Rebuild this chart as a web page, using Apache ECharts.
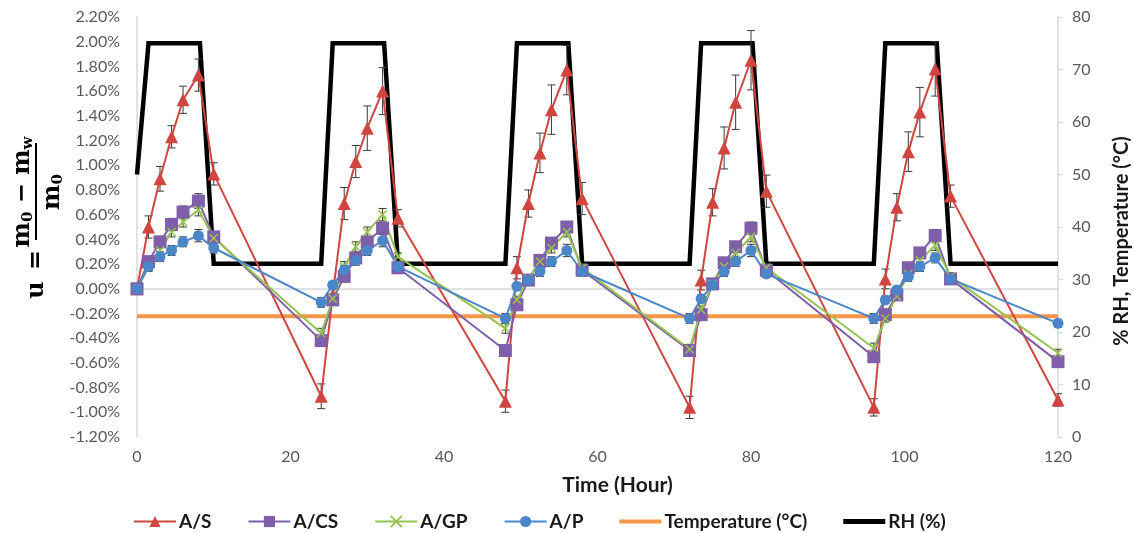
<!DOCTYPE html>
<html>
<head>
<meta charset="utf-8">
<script src="https://cdn.jsdelivr.net/npm/echarts@6/dist/echarts.min.js"></script>
<style>html,body{margin:0;padding:0;background:#fff;}#chart{width:1134px;height:533px;}</style>
</head>
<body>
<div id="chart"></div>
<script>
// ---- data ----
const hours = [0,1.5,3,4.5,6,8,10, 24,25.5,27,28.5,30,32,34, 48,49.5,51,52.5,54,56,58, 72,73.5,75,76.5,78,80,82, 96,97.5,99,100.5,102,104,106, 120];
// values in percent (u)
const valAS  = [0,0.50,0.89,1.23,1.53,1.73,0.93, -0.87,-0.05,0.69,1.03,1.30,1.60,0.57, -0.91,0.17,0.69,1.10,1.45,1.77,0.73, -0.96,0.07,0.70,1.14,1.51,1.85,0.79, -0.96,0.08,0.66,1.11,1.43,1.78,0.75, -0.90];
const errAS  = [0,0.09,0.10,0.09,0.11,0.13,0.09, 0.10,0.06,0.13,0.13,0.18,0.19,0.07, 0.09,0.09,0.11,0.16,0.20,0.20,0.13, 0.09,0.08,0.11,0.17,0.22,0.24,0.13, 0.07,0.08,0.11,0.16,0.20,0.22,0.09, 0.05];
const valACS = [0,0.22,0.38,0.52,0.62,0.71,0.42, -0.42,-0.09,0.10,0.25,0.38,0.49,0.17, -0.50,-0.13,0.07,0.23,0.37,0.50,0.15, -0.50,-0.21,0.04,0.21,0.34,0.49,0.15, -0.55,-0.21,-0.05,0.17,0.29,0.43,0.08, -0.59];
const errACS = [0,0.04,0.04,0.05,0.05,0.06,0.04, 0.04,0.03,0.04,0.04,0.04,0.05,0.03, 0.04,0.03,0.03,0.04,0.04,0.04,0.03, 0.04,0.03,0.03,0.04,0.04,0.05,0.03, 0.04,0.03,0.03,0.04,0.04,0.05,0.03, 0.03];
const valAGP = [0,0.18,0.31,0.46,0.54,0.64,0.41, -0.36,-0.08,0.18,0.34,0.46,0.60,0.26, -0.32,-0.09,0.08,0.22,0.33,0.46,0.17, -0.49,-0.17,0.04,0.18,0.29,0.42,0.17, -0.48,-0.24,-0.06,0.12,0.23,0.35,0.10, -0.52];
const errAGP = [0,0.03,0.04,0.04,0.04,0.05,0.04, 0.04,0.03,0.04,0.04,0.04,0.05,0.03, 0.04,0.03,0.03,0.04,0.04,0.04,0.03, 0.04,0.03,0.03,0.04,0.04,0.04,0.03, 0.04,0.03,0.03,0.04,0.04,0.04,0.03, 0.03];
const valAP  = [0,0.18,0.26,0.31,0.38,0.43,0.33, -0.11,0.03,0.15,0.23,0.31,0.39,0.18, -0.24,0.02,0.07,0.14,0.22,0.31,0.14, -0.24,-0.08,0.03,0.14,0.22,0.31,0.12, -0.24,-0.09,-0.01,0.10,0.18,0.25,0.08, -0.28];
const errAP  = [0,0.04,0.04,0.04,0.04,0.05,0.04, 0.04,0.03,0.04,0.04,0.04,0.05,0.03, 0.04,0.03,0.03,0.04,0.04,0.05,0.04, 0.04,0.03,0.03,0.04,0.04,0.05,0.03, 0.04,0.03,0.03,0.04,0.04,0.04,0.03, 0.03];
// RH and temperature (right axis)
const rhHours = [0,1.5,8.2,10,24,25.5,32.2,34,48,49.5,56.2,58,72,73.5,80.2,82,96,97.5,104.2,106,120];
const rhVals  = [50,75,75,33,33,75,75,33,33,75,75,33,33,75,75,33,33,75,75,33,33];
const tempHours = [0,120];
const tempVals  = [23,23];
// axes
const xMin = 0, xMax = 120, xStep = 20;
const yLMin = -1.2, yLMax = 2.2, yLStep = 0.2;
const yRMin = 0, yRMax = 80, yRStep = 10;
const seriesNames = ['A/S','A/CS','A/GP','A/P','Temperature (°C)','RH (%)'];
const xTitle = 'Time (Hour)';
const yRightTitle = '% RH, Temperature (°C)';

// ---- styles ----
const C = {s:'#D0453F', cs:'#7F5FAA', gp:'#96C350', p:'#4A86C8', t:'#F7964A', rh:'#000000'};
const tickFont = {fontFamily:'Lato', fontSize:16, color:'#595959'};
const pair = (xs, ys) => xs.map((x,i)=>[x, ys[i]]);
const triple = (xs, ys, es) => xs.map((x,i)=>[x, ys[i], es[i]]);

function errRender(params, api) {
  const x = api.value(0), y = api.value(1), e = api.value(2);
  if (!e) return {type:'group', children:[]};
  const top = api.coord([x, y + e]);
  const bot = api.coord([x, y - e]);
  const cx = top[0], hw = 4;
  const st = {stroke:'#3a3a3a', lineWidth:1};
  return {type:'group', children:[
    {type:'line', shape:{x1:cx, y1:top[1], x2:cx, y2:bot[1]}, style:st},
    {type:'line', shape:{x1:cx-hw, y1:top[1], x2:cx+hw, y2:top[1]}, style:st},
    {type:'line', shape:{x1:cx-hw, y1:bot[1], x2:cx+hw, y2:bot[1]}, style:st}
  ]};
}
function errSeries(vals, errs) {
  return {type:'custom', renderItem:errRender, data:triple(hours, vals, errs), yAxisIndex:0, z:3, silent:true,
          encode:{x:0, y:1}};
}

const chart = echarts.init(document.getElementById('chart'), null, {renderer:'canvas'});
const axisLineStyle = {color:'#d9d9d9', width:1.5};
const serifBold = 'bold 24px "DejaVu Serif"';
const subBold = 'bold 15px "DejaVu Serif"';
const tempIcon = 'path://M0,0H42V4H0Z';
const rhIcon = 'path://M0,0H42V5H0Z';

chart.setOption({
  animation:false,
  backgroundColor:'#ffffff',
  grid:{left:137, right:76, top:17, bottom:96, containLabel:false},
  legend:{
    data:[
      {name:seriesNames[0]}, {name:seriesNames[1]}, {name:seriesNames[2]}, {name:seriesNames[3]},
      {name:seriesNames[4], icon:tempIcon}, {name:seriesNames[5], icon:rhIcon}
    ],
    left:128, top:507, itemWidth:42, itemHeight:14, itemGap:36,
    textStyle:{fontFamily:'Lato', fontSize:19, fontWeight:'bold', color:'#1a1a1a', padding:[0,0,0,-2]}
  },
  xAxis:{
    type:'value', min:xMin, max:xMax, interval:xStep,
    axisLine:{show:true, lineStyle:axisLineStyle}, axisTick:{show:false}, splitLine:{show:false},
    axisLabel:Object.assign({margin:12}, tickFont),
    name:xTitle, nameLocation:'middle', nameGap:38,
    nameTextStyle:{fontFamily:'Lato', fontSize:21, fontWeight:'bold', color:'#1a1a1a', padding:[0,0,0,40]}
  },
  yAxis:[
    {type:'value', min:yLMin, max:yLMax, interval:yLStep, position:'left',
     axisLine:{show:true, onZero:false, lineStyle:axisLineStyle}, axisTick:{show:false}, splitLine:{show:false},
     axisLabel:Object.assign({margin:17, formatter:v => v.toFixed(2) + '%'}, tickFont)},
    {type:'value', min:yRMin, max:yRMax, interval:yRStep, position:'right',
     axisLine:{show:true, onZero:false, lineStyle:axisLineStyle},
     axisTick:{show:true, length:5, lineStyle:{color:'#d9d9d9'}}, splitLine:{show:false},
     axisLabel:Object.assign({margin:14}, tickFont)}
  ],
  graphic:[
    {type:'text', x:1122, y:241, rotation:Math.PI/2,
     style:{text:yRightTitle, font:'bold 20px Lato', fill:'#1a1a1a', align:'center', verticalAlign:'middle'}},
    {type:'group', x:37, y:290, rotation:Math.PI/2,
    children:[
      {type:'text', x:0, y:0, style:{text:'u', font:serifBold, fill:'#000', align:'center', verticalAlign:'middle'}},
      {type:'text', x:30, y:0, style:{text:'=', font:serifBold, fill:'#000', align:'center', verticalAlign:'middle'}},
      {type:'rect', shape:{x:50, y:-2, width:97, height:2}, style:{fill:'#000'}},
      {type:'text', x:98, y:-14, style:{text:'{m|m}{s|0}{m| − m}{s|w}', align:'center', verticalAlign:'middle', fill:'#000',
        rich:{m:{font:serifBold, fill:'#000', lineHeight:26, verticalAlign:'middle'},
              s:{font:subBold, fill:'#000', lineHeight:12, verticalAlign:'bottom'}}}},
      {type:'text', x:98, y:16, style:{text:'{m|m}{s|0}', align:'center', verticalAlign:'middle', fill:'#000',
        rich:{m:{font:serifBold, fill:'#000', lineHeight:26, verticalAlign:'middle'},
              s:{font:subBold, fill:'#000', lineHeight:12, verticalAlign:'bottom'}}}}
    ]
  }],
  series:[
    {name:'Temperature (°C)', type:'line', yAxisIndex:1, data:pair(tempHours, tempVals), symbol:'none',
     lineStyle:{color:C.t, width:4}, itemStyle:{color:C.t}, z:1},
    {name:'RH (%)', type:'line', yAxisIndex:1, data:pair(rhHours, rhVals), symbol:'none',
     lineStyle:{color:C.rh, width:4.5, join:'miter'}, itemStyle:{color:C.rh}, z:1},
    errSeries(valAS, errAS), errSeries(valACS, errACS), errSeries(valAGP, errAGP), errSeries(valAP, errAP),
    {name:'A/S', type:'line', yAxisIndex:0, data:pair(hours, valAS), symbol:'triangle', symbolSize:13,
     lineStyle:{color:C.s, width:2}, itemStyle:{color:C.s}, z:4},
    {name:'A/CS', type:'line', yAxisIndex:0, data:pair(hours, valACS), symbol:'rect', symbolSize:13,
     lineStyle:{color:C.cs, width:2}, itemStyle:{color:C.cs}, z:4},
    {name:'A/GP', type:'line', yAxisIndex:0, data:pair(hours, valAGP), symbol:'path://M0,0L10,10M10,0L0,10', symbolSize:8,
     lineStyle:{color:C.gp, width:2}, itemStyle:{color:C.gp, borderColor:C.gp, borderWidth:1.5}, z:4},
    {name:'A/P', type:'line', yAxisIndex:0, data:pair(hours, valAP), symbol:'circle', symbolSize:11,
     lineStyle:{color:C.p, width:2}, itemStyle:{color:C.p}, z:4}
  ]
});
</script>
</body>
</html>
